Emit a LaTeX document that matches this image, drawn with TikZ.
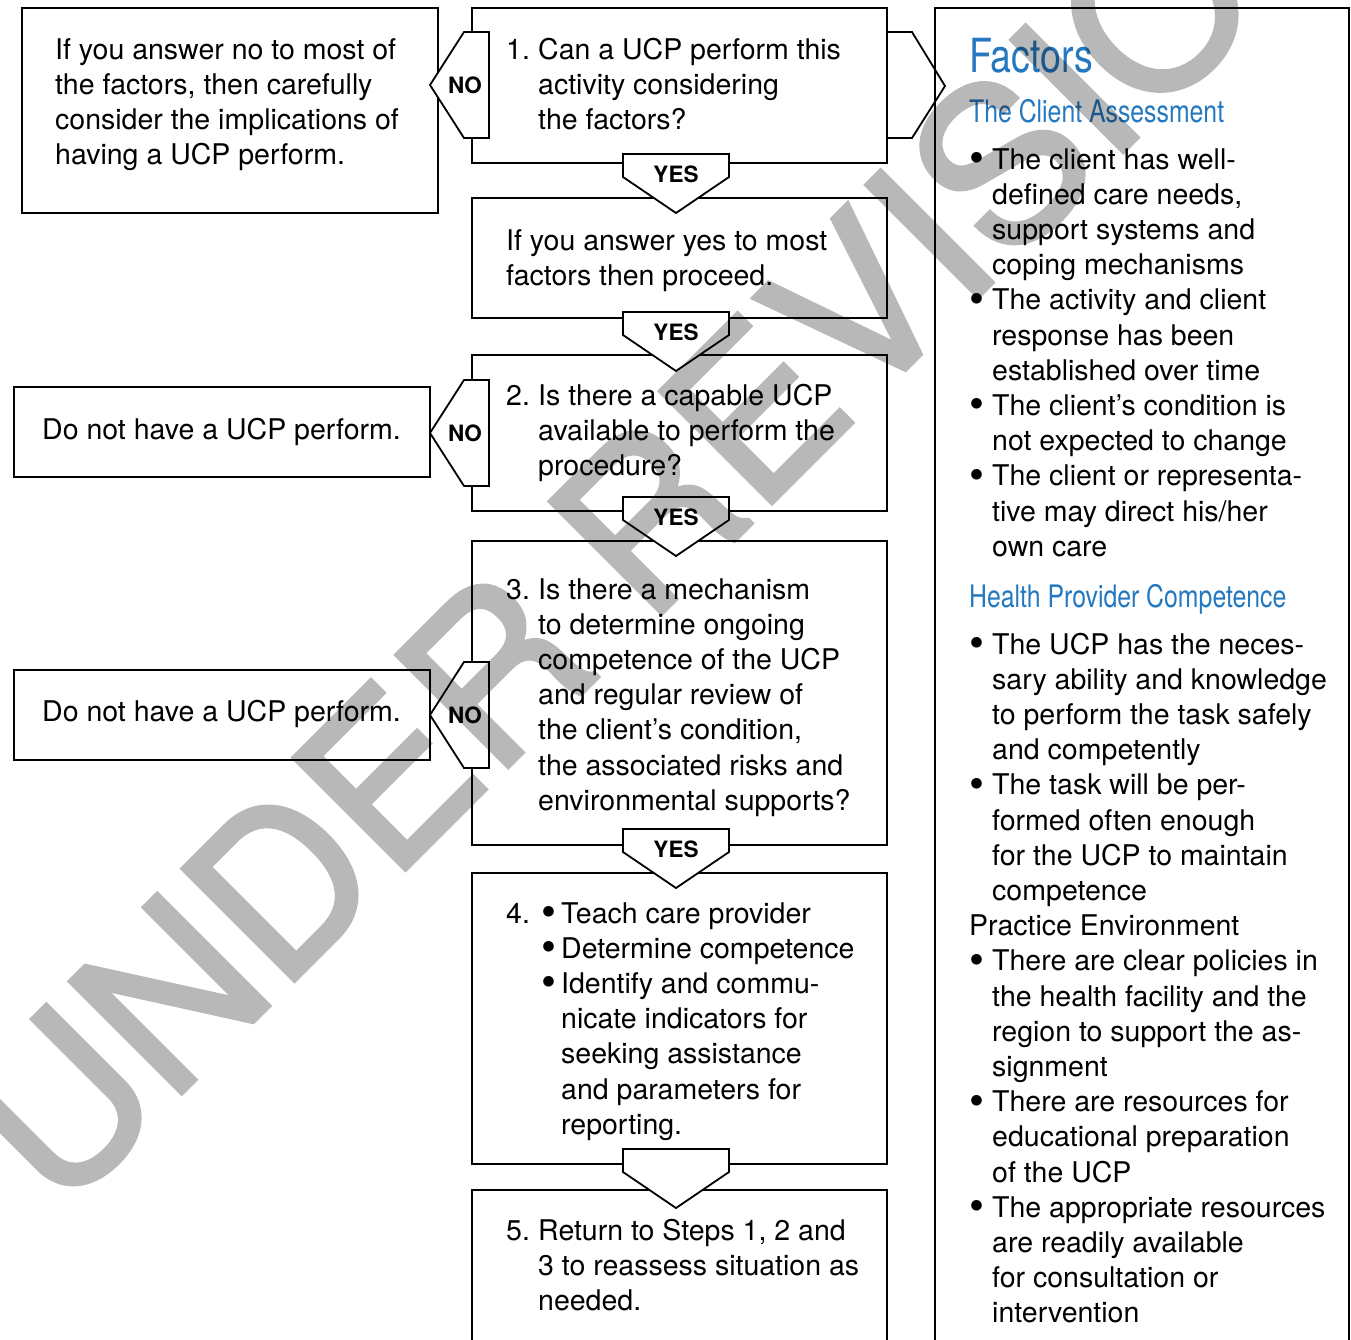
\documentclass[tikz,border=0pt]{standalone}
\usepackage{fontspec}
\setmainfont{TeX Gyre Heros}
\newfontfamily\condfont[FakeStretch=0.8]{TeX Gyre Heros}
\newfontfamily\wmfont[FakeBold=2]{TeX Gyre Heros}
\definecolor{hblue}{RGB}{36,120,192}
\newcommand\xdot{\raisebox{-0.12em}{\scalebox{1.5}{\textbullet}}}
\newcommand\xnum[1]{\makebox[32pt][l]{#1}}
\newcommand\xhang{\hspace*{32pt}}
\newcommand\xbul{\makebox[20pt][l]{\xdot}}
\newcommand\xrbul{\makebox[23pt][l]{\xdot}}
\newcommand\xrhang{\hspace*{23pt}}
\tikzset{
  box/.style={draw, line width=2.4pt, rectangle, anchor=north west, inner sep=0pt, outer sep=0pt},
  shp/.style={draw, line width=1.8pt, fill=white, line join=miter},
  lbl/.style={font=\fontsize{22.5}{24}\selectfont\bfseries, inner sep=0pt},
  txt/.style={anchor=base west, inner sep=0pt, font=\fontsize{28.5}{35.2}\selectfont},
  hd/.style={anchor=base west, inner sep=0pt, text=hblue},
}
\newcommand\chev[3]{%
  \draw[shp] (623,#1) -- (729,#1) -- (729,#1+23) -- (676,#1+59) -- (623,#1+23) -- cycle;
  \node[lbl] (#2) at (676,#1+20) {#3};}
\newcommand\nop[2]{%
  \draw[shp] (489,#1-53) -- (464,#1-53) -- (430,#1) -- (464,#1+53) -- (489,#1+53) -- cycle;
  \node[lbl] (#2) at (465,#1) {NO};}
\begin{document}
\begin{tikzpicture}[x=1pt,y=-1pt]
\useasboundingbox (0,0) rectangle (1351,1339);
\clip (0,0) rectangle (1351,1339);
\fill[white] (0,0) rectangle (1351,1339);
% boxes
\node[box, minimum width=415pt, minimum height=155pt] (b1) at (472,8) {};
\node[box, minimum width=416pt, minimum height=205pt] (l1) at (22,8) {};
\node[box, minimum width=415pt, minimum height=120pt] (by) at (472,198) {};
\node[box, minimum width=415pt, minimum height=156pt] (b2) at (472,355) {};
\node[box, minimum width=416pt, minimum height=90pt] (l2) at (14,387) {};
\node[box, minimum width=415pt, minimum height=304pt] (b3) at (472,541) {};
\node[box, minimum width=416pt, minimum height=90pt] (l3) at (14,670) {};
\node[box, minimum width=415pt, minimum height=291pt] (b4) at (472,873) {};
\node[box, minimum width=415pt, minimum height=250pt] (b5) at (472,1190) {};
\node[box, minimum width=414pt, minimum height=1450pt] (pn) at (935,8) {};
% connectors
\draw[shp, fill=none] (887,32) -- (912,32) -- (945,86) -- (912,138) -- (887,138);
\chev{154}{y1}{YES}
\chev{312}{y2}{YES}
\chev{497}{y3}{YES}
\chev{829}{y4}{YES}
\chev{1149}{y5}{}
\nop{85}{n1}
\nop{433}{n2}
\nop{715}{n3}
% texts
\node[txt] (tl1) at (55,59) {\parbox[t]{600pt}{If you answer no to most of\\the factors, then carefully\\consider the implications of\\having a UCP perform.}};
\node[txt] (tb1) at (506,59) {\parbox[t]{600pt}{\xnum{1.}Can a UCP perform this\\\xhang activity considering\\\xhang the factors?}};
\node[txt] (tby) at (506,250) {\parbox[t]{600pt}{If you answer yes to most\\factors then proceed.}};
\node[txt] (tb2) at (506,405) {\parbox[t]{600pt}{\xnum{2.}Is there a capable UCP\\\xhang available to perform the\\\xhang procedure?}};
\node[txt] (tl2) at (42,439) {Do not have a UCP perform.};
\node[txt] (tb3) at (506,599) {\parbox[t]{600pt}{\xnum{3.}Is there a mechanism\\\xhang to determine ongoing\\\xhang competence of the UCP\\\xhang and regular review of\\\xhang the client's condition,\\\xhang the associated risks and\\\xhang environmental supports?}};
\node[txt] (tl3) at (42,721) {Do not have a UCP perform.};
\node[txt] (tb4) at (506,923) {\parbox[t]{600pt}{\makebox[35pt][l]{4.}\xbul Teach care provider\\\hspace*{35pt}\xbul Determine competence\\\hspace*{35pt}\xbul Identify and commu-\\\hspace*{55pt}nicate indicators for\\\hspace*{55pt}seeking assistance\\\hspace*{55pt}and parameters for\\\hspace*{55pt}reporting.}};
\node[txt] (tb5) at (506,1240) {\parbox[t]{600pt}{\xnum{5.}Return to Steps 1, 2 and\\\xhang 3 to reassess situation as\\\xhang needed.}};
% factors panel
\node[hd, font=\condfont\fontsize{47}{50}\selectfont] (f0) at (969,72) {Factors};
\node[hd, font=\condfont\fontsize{31}{34}\selectfont] (f1) at (969,122) {The Client Assessment};
\node[txt] (f2) at (969,169) {\parbox[t]{600pt}{\xrbul The client has well-\\\xrhang defined care needs,\\\xrhang support systems and\\\xrhang coping mechanisms\\\xrbul The activity and client\\\xrhang response has been\\\xrhang established over time\\\xrbul The client's condition is\\\xrhang not expected to change\\\xrbul The client or representa-\\\xrhang tive may direct his/her\\\xrhang own care}};
\node[hd, font=\condfont\fontsize{31}{34}\selectfont] (f3) at (969,607) {Health Provider Competence};
\node[txt] (f4) at (969,654) {\parbox[t]{600pt}{\xrbul The UCP has the neces-\\\xrhang sary ability and knowledge\\\xrhang to perform the task safely\\\xrhang and competently\\\xrbul The task will be per-\\\xrhang formed often enough\\\xrhang for the UCP to maintain\\\xrhang competence\\Practice Environment\\\xrbul There are clear policies in\\\xrhang the health facility and the\\\xrhang region to support the as-\\\xrhang signment\\\xrbul There are resources for\\\xrhang educational preparation\\\xrhang of the UCP\\\xrbul The appropriate resources\\\xrhang are readily available\\\xrhang for consultation or\\\xrhang intervention}};
% watermark
\begin{scope}[transparency group, opacity=0.28]
\node[font=\wmfont\fontsize{217}{217}\selectfont, rotate=45, anchor=base, inner sep=0pt] (wm) at (720,555) {UNDER REVISION};
\end{scope}
\end{tikzpicture}
\end{document}
